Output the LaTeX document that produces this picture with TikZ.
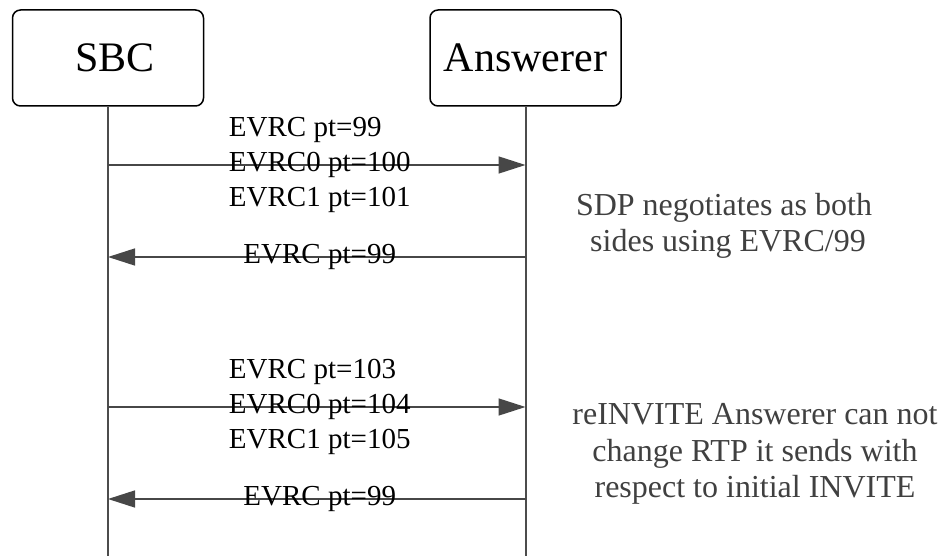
\documentclass[tikz,border=0pt]{standalone}
\usepackage{fontspec}
\setmainfont{Liberation Serif}
\usetikzlibrary{arrows.meta}
\tikzset{
  actor/.style={draw,line width=1.5pt,rounded corners=8pt,minimum width=191pt,minimum height=96pt,font=\fontsize{42}{50}\selectfont},
  life/.style={draw=black!70,line width=2pt},
  msg/.style={draw=black!72,line width=1.5pt,-{Triangle[length=27pt,width=17pt]}},
  lbl/.style={font=\fontsize{29}{35}\selectfont,align=left,xshift=3pt},
  note/.style={font=\fontsize{32}{36.5}\selectfont,align=center,text=black!75}
}
\begin{document}
\begin{tikzpicture}[x=1pt,y=-1pt]
    \useasboundingbox (0,0) rectangle (943,556);
    \node[actor] (sbc) at (108,58) {\hspace*{14pt}SBC};
    \node[actor] (ans) at (525.5,58) {Answerer};
    \coordinate (sbcend) at (sbc.south |- 0,556);
    \coordinate (ansend) at (ans.south |- 0,556);
    \draw[life] (sbc)--(sbcend);
    \draw[life] (ans)--(ansend);
    \foreach \y/\n in {165/1,257/2,407/3,499/4}{
        \coordinate (s\n) at (sbc.south |- 0,\y);
        \coordinate (a\n) at (ans.south |- 0,\y);
    }
    \draw[msg] (s1)--node[lbl]{EVRC pt=99\\EVRC0 pt=100\\EVRC1 pt=101}(a1);
    \draw[msg] (a2)--node[lbl]{EVRC pt=99}(s2);
    \draw[msg] (s3)--node[lbl]{EVRC pt=103\\EVRC0 pt=104\\EVRC1 pt=105}(a3);
    \draw[msg] (a4)--node[lbl]{EVRC pt=99}(s4);
    \node[note] (sdp) at (724,226) {SDP negotiates as both\\\hspace*{8pt}sides using EVRC/99};
    \node[note] (reinv) at (755,454) {reINVITE Answerer can not\\change RTP it sends with\\respect to initial INVITE};
\end{tikzpicture}
\end{document}
